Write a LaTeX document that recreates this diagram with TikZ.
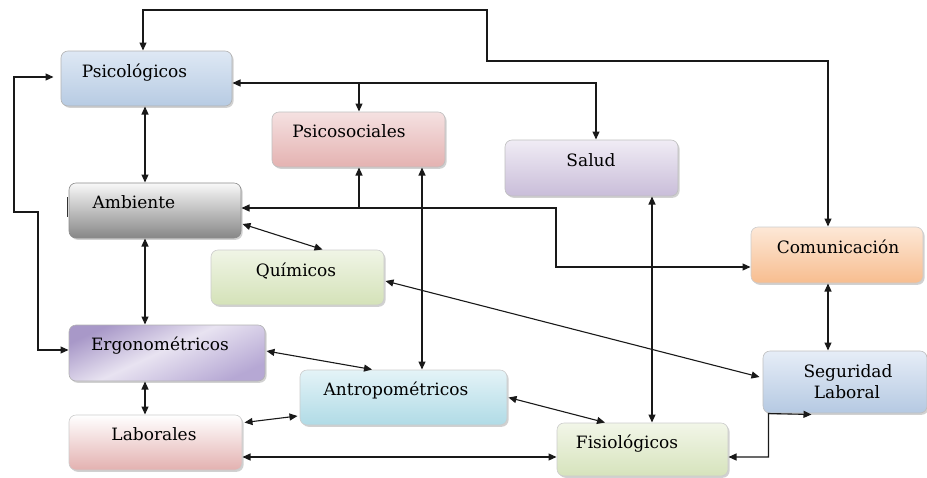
\documentclass[tikz,border=0pt]{standalone}
\usepackage{fontspec}
\setmainfont{DejaVu Serif}
\usetikzlibrary{arrows.meta,shadows,calc}

\definecolor{ergoA}{RGB}{168,152,200}
\definecolor{ergoB}{RGB}{232,227,241}
\definecolor{ergoC}{RGB}{182,168,212}
\pgfdeclareverticalshading{ergoshade}{100bp}{color(0bp)=(ergoC); color(25bp)=(ergoC); color(52bp)=(ergoB); color(75bp)=(ergoA); color(100bp)=(ergoA)}

\tikzset{
  mkbox/.style={rectangle, rounded corners=7pt, draw=#1, line width=0.6pt,
    inner sep=0pt, outer sep=0.5pt,
    drop shadow={shadow xshift=1.6pt, shadow yshift=-1.8pt, opacity=0.3, fill=black!60}},
  lbl/.style={anchor=base, inner sep=0pt, font=\fontsize{17}{20}\selectfont, text=black},
  link/.style={line width=1.1pt, draw=black!90,
    {Triangle[length=8pt,width=7pt]}-{Triangle[length=8pt,width=7pt]}},
  onelink/.style={line width=1.1pt, draw=black!90, -{Triangle[length=8pt,width=7pt]}},
}

\begin{document}
\begin{tikzpicture}[x=1pt,y=-1pt]
\useasboundingbox (0,0) rectangle (927,477);

% ---------- boxes ----------
\node[mkbox=black!30, minimum width=171pt, minimum height=55pt,
      top color={rgb,255:red,222;green,232;blue,244}, bottom color={rgb,255:red,183;green,203;blue,227}]
      (psico) at (146.5,78.5) {};
\node[mkbox=black!25, minimum width=173pt, minimum height=55pt,
      top color={rgb,255:red,245;green,225;blue,225}, bottom color={rgb,255:red,228;green,178;blue,177}]
      (psoc) at (358.5,139.5) {};
\node[mkbox=black!25, minimum width=173pt, minimum height=56pt,
      top color={rgb,255:red,240;green,236;blue,245}, bottom color={rgb,255:red,201;green,189;blue,217}]
      (salud) at (591.5,168) {};
\node[mkbox=black!45, minimum width=172pt, minimum height=55pt,
      top color={rgb,255:red,248;green,248;blue,248}, bottom color={rgb,255:red,135;green,135;blue,135}]
      (amb) at (155,210.5) {};
\node[mkbox=black!20, minimum width=173pt, minimum height=55pt,
      top color={rgb,255:red,240;green,245;blue,230}, bottom color={rgb,255:red,212;green,226;blue,184}]
      (quim) at (297.5,277.5) {};
\node[mkbox=black!20, minimum width=172pt, minimum height=56pt,
      top color={rgb,255:red,253;green,232;blue,215}, bottom color={rgb,255:red,247;green,189;blue,143}]
      (comu) at (837,255) {};
\node[mkbox=black!30, minimum width=196pt, minimum height=56pt,
      shading=ergoshade, shading angle=25]
      (ergo) at (167,353) {};
\node[mkbox=black!20, minimum width=207pt, minimum height=55pt,
      top color={rgb,255:red,228;green,243;blue,247}, bottom color={rgb,255:red,176;green,219;blue,230}]
      (antro) at (403.5,397.5) {};
\node[mkbox=black!25, minimum width=164pt, minimum height=62pt,
      top color={rgb,255:red,230;green,237;blue,247}, bottom color={rgb,255:red,181;green,201;blue,226}]
      (segur) at (845,382) {};
\node[mkbox=black!20, minimum width=173pt, minimum height=55pt,
      top color=white, bottom color={rgb,255:red,227;green,177;blue,176}]
      (labor) at (155.5,442.5) {};
\node[mkbox=black!20, minimum width=171pt, minimum height=53pt,
      top color={rgb,255:red,242;green,246;blue,232}, bottom color={rgb,255:red,214;green,227;blue,188}]
      (fisio) at (642.5,449.5) {};

% small dark tick on the left edge of Ambiente
\draw[line width=1.3pt, black!80] ([xshift=-1pt,yshift=13.5pt]amb.west) -- ([xshift=-1pt,yshift=-6.5pt]amb.west);

% ---------- labels ----------
\node[lbl] (tpsico) at (134.5,77) {Psicológicos};
\node[lbl] (tpsoc)  at (349,137)  {Psicosociales};
\node[lbl] (tsalud) at (591,166)  {Salud};
\node[lbl] (tamb)   at (134,208)  {Ambiente};
\node[lbl] (tquim)  at (296,276)  {Químicos};
\node[lbl] (tcomu)  at (838,253)  {Comunicación};
\node[lbl] (tergo)  at (160,350)  {Ergonométricos};
\node[lbl] (tantro) at (396,395)  {Antropométricos};
\node[lbl] (tseg)   at (848,377)  {Seguridad};
\node[lbl] (tlab)   at (847,398)  {Laboral};
\node[lbl] (tlabo)  at (154,440)  {Laborales};
\node[lbl] (tfisio) at (627,448)  {Fisiológicos};

% ---------- lanes ----------
\coordinate (lx145) at (145,0);
\coordinate (lx422) at (422,0);
\coordinate (lx652) at (652,0);
\coordinate (lx828) at (828,0);
\coordinate (t1) at (487,10);
\coordinate (t2) at (487,61);
\coordinate (b1) at (359,83);
\coordinate (r1) at (556,208);
\coordinate (b2) at (359,208);
\coordinate (l1) at (14,212);
\coordinate (l2) at (38,350);
\coordinate (h457) at (0,457);

% ---------- connectors ----------
% top loop: Psicológicos <-> Comunicación
\draw[link] ([xshift=-3.5pt]psico.north) |- (t1) -- (t2) -| (comu.north -| lx828);
% Psicológicos <-> Salud, with branch to Psicosociales
\draw[link] ([yshift=-4.5pt]psico.east) -| ([xshift=4.5pt]salud.north);
\draw[onelink] (b1) -- (b1 |- psoc.north);
% Ambiente <-> Comunicación, with branch to Psicosociales
\draw[link] (amb.east |- r1) -- (r1) |- ([yshift=-12pt]comu.west);
\draw[onelink] (b2) -- (b2 |- psoc.south);
% left loop: Psicológicos <-> Ergonométricos
\draw[link] ([xshift=-7pt,yshift=1.5pt]psico.west) -| (l1) -| (l2) -- (ergo.west |- l2);
% vertical column on the left
\draw[link] (psico.south -| lx145) -- (amb.north -| lx145);
\draw[link] (amb.south -| lx145) -- (ergo.north -| lx145);
\draw[link] (ergo.south -| lx145) -- (labor.north -| lx145);
% long verticals
\draw[link] (psoc.south -| lx422) -- (antro.north -| lx422);
\draw[link] (salud.south -| lx652) -- (fisio.north -| lx652);
\draw[link] (comu.south -| lx828) -- (segur.north -| lx828);
% diagonals
\draw[link] ([xshift=1pt,yshift=-13.5pt]amb.east) -- ([xshift=25pt]quim.north);
\draw[link] ([xshift=1pt,yshift=-3.5pt]quim.east) -- ([xshift=-3pt,yshift=5pt]segur.west);
\draw[link] ([xshift=1pt,yshift=2pt]ergo.east) -- ([xshift=-31.5pt]antro.north);
\draw[link] ([xshift=2pt,yshift=-8pt]labor.north east) -- ([xshift=-2pt,yshift=-18.5pt]antro.west);
\draw[link] ([xshift=1pt]antro.east) -- ([xshift=-37.5pt]fisio.north);
% bottom connections
\draw[link] (labor.east |- h457) -- (fisio.west |- h457);
\draw[link] (fisio.east |- h457) -| ([xshift=6pt]segur.south west) -- ([xshift=49pt,yshift=-1pt]segur.south west);
\end{tikzpicture}
\end{document}
